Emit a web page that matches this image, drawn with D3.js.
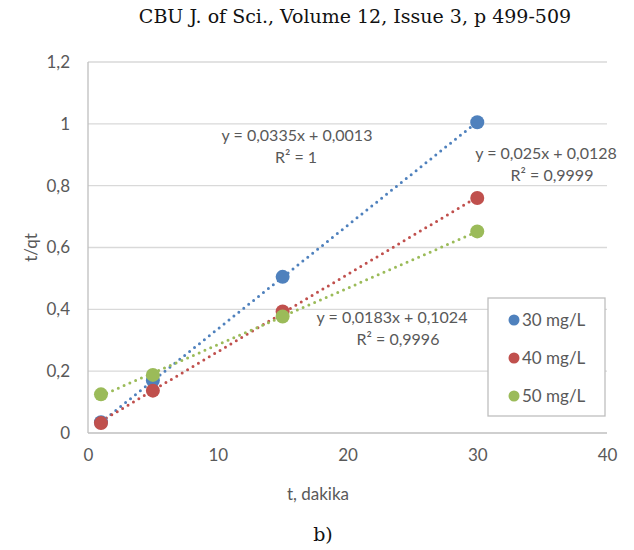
<!DOCTYPE html>
<html>
<head>
<meta charset="utf-8">
<script src="https://cdn.jsdelivr.net/npm/d3@7.9.0/dist/d3.min.js"></script>
<style>
  body { margin: 0; background: #fff; }
  text { font-family: Lato, "Open Sans", sans-serif; }
</style>
</head>
<body>
<svg id="chart" width="634" height="550"></svg>
<script>
// data
const times = [1, 5, 15, 30];
const series = ["30 mg/L", "40 mg/L", "50 mg/L"];
const values30 = [0.035, 0.17, 0.505, 1.005];
const values40 = [0.032, 0.137, 0.393, 0.76];
const values50 = [0.125, 0.188, 0.377, 0.652];
const slopes = [0.0335, 0.025, 0.0183];
const intercepts = [0.0013, 0.0128, 0.1024];
const r2Labels = ["1", "0,9999", "0,9996"];
const xTicks = [0, 10, 20, 30, 40];
const yTicks = [0, 0.2, 0.4, 0.6, 0.8, 1, 1.2];
const colors = ["#4F81BD", "#C0504D", "#9BBB59"];

const allValues = [values30, values40, values50];
const fmt = v => String(v).replace(".", ",");

const svg = d3.select("#chart");
const x = d3.scaleLinear().domain([0, 40]).range([88, 607]);
const y = d3.scaleLinear().domain([0, 1.2]).range([433, 62]);

// header and caption
svg.append("text").attr("x", 355).attr("y", 23).attr("text-anchor", "middle")
  .style("font-family", "'DejaVu Serif', serif")
  .style("font-size", "19px").attr("fill", "#111")
  .text("CBU J. of Sci., Volume 12, Issue 3, p 499-509");
svg.append("text").attr("x", 323).attr("y", 541).attr("text-anchor", "middle")
  .style("font-family", "'DejaVu Serif', serif")
  .style("font-size", "19px").attr("fill", "#111").text("b)");

// gridlines
svg.append("g").selectAll("line").data(yTicks.filter(d => d > 0)).join("line")
  .attr("x1", x(0)).attr("x2", x(40))
  .attr("y1", d => y(d)).attr("y2", d => y(d))
  .attr("stroke", "#d9d9d9").attr("stroke-width", 1.3);

// axis lines
svg.append("line").attr("x1", x(0)).attr("x2", x(0)).attr("y1", y(0)).attr("y2", y(1.2))
  .attr("stroke", "#bfbfbf").attr("stroke-width", 1.3);
svg.append("line").attr("x1", x(0)).attr("x2", x(40)).attr("y1", y(0)).attr("y2", y(0))
  .attr("stroke", "#bfbfbf").attr("stroke-width", 1.3);

// tick labels
const yAxis = d3.axisLeft(y).tickValues(yTicks).tickSize(0).tickPadding(18).tickFormat(fmt);
const gy = svg.append("g").attr("transform", `translate(${x(0)},0)`).call(yAxis);
gy.select(".domain").remove();
gy.selectAll("text").style("font-size", "17px").attr("fill", "#595959");

const xAxis = d3.axisBottom(x).tickValues(xTicks).tickSize(0).tickPadding(16);
const gx = svg.append("g").attr("transform", `translate(0,${y(0)})`).call(xAxis);
gx.select(".domain").remove();
gx.selectAll("text").style("font-size", "17px").attr("fill", "#595959");

// axis titles
svg.append("text").attr("transform", `translate(37,${y(0.6)}) rotate(-90)`)
  .attr("text-anchor", "middle").style("font-size", "17px").attr("fill", "#595959").text("t/qt");
svg.append("text").attr("x", 318).attr("y", 500).attr("text-anchor", "middle")
  .style("font-size", "17px").attr("fill", "#595959").text("t, dakika");

// trendlines
series.forEach((s, i) => {
  const x0 = times[0], x1 = times[times.length - 1];
  svg.append("line")
    .attr("x1", x(x0)).attr("y1", y(slopes[i] * x0 + intercepts[i]))
    .attr("x2", x(x1)).attr("y2", y(slopes[i] * x1 + intercepts[i]))
    .attr("stroke", colors[i]).attr("stroke-width", 3)
    .attr("stroke-linecap", "round").attr("stroke-dasharray", "0,6.3");
});

// points
series.forEach((s, i) => {
  svg.append("g").selectAll("circle").data(times).join("circle")
    .attr("cx", d => x(d)).attr("cy", (d, j) => y(allValues[i][j]))
    .attr("r", 7).attr("fill", colors[i]);
});

// equation labels
const eqPos = [[297, 141], [546, 159], [392, 323]];
series.forEach((s, i) => {
  const g = svg.append("g").attr("fill", "#595959").style("font-size", "16px").attr("text-anchor", "middle");
  g.append("text").attr("x", eqPos[i][0]).attr("y", eqPos[i][1])
    .text(`y = ${fmt(slopes[i])}x + ${fmt(intercepts[i].toFixed(4))}`);
  g.append("text").attr("x", eqPos[i][0] + (i === 0 ? -1 : 6)).attr("y", eqPos[i][1] + 22)
    .text(`R² = ${r2Labels[i]}`);
});

// legend
const lg = svg.append("g");
lg.append("rect").attr("x", 488).attr("y", 298).attr("width", 117).attr("height", 118)
  .attr("fill", "#fff").attr("stroke", "#bfbfbf").attr("stroke-width", 1.3);
series.forEach((s, i) => {
  const cy = 320 + i * 38;
  lg.append("circle").attr("cx", 514).attr("cy", cy).attr("r", 5.5).attr("fill", colors[i]);
  lg.append("text").attr("x", 522).attr("y", cy + 6).style("font-size", "17px")
    .attr("fill", "#595959").text(s);
});
</script>
</body>
</html>
